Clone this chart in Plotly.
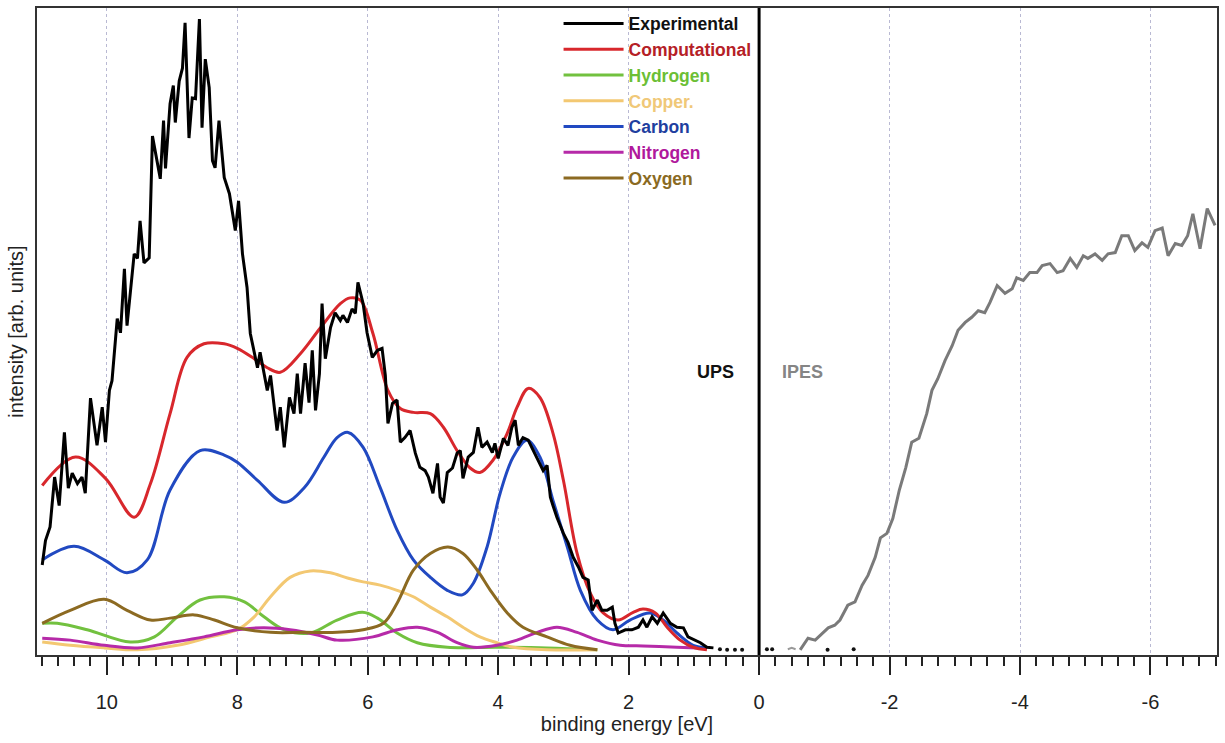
import plotly.graph_objects as go

# ---------------- UPS: experimental spectrum (binding energy in eV, intensity in arb. units)
exp_energy = [10.99, 10.94, 10.87, 10.80, 10.73, 10.65, 10.59, 10.53, 10.45, 10.38,
              10.33, 10.25, 10.15, 10.07, 10.02, 9.96, 9.92, 9.87, 9.84, 9.79,
              9.73, 9.69, 9.58, 9.53, 9.49, 9.43, 9.35, 9.30, 9.18, 9.13,
              9.10, 9.03, 8.98, 8.95, 8.89, 8.84, 8.80, 8.74, 8.69, 8.64,
              8.58, 8.54, 8.49, 8.43, 8.38, 8.34, 8.28, 8.20, 8.12, 8.03,
              7.98, 7.92, 7.85, 7.80, 7.69, 7.65, 7.54, 7.49, 7.39, 7.34,
              7.28, 7.20, 7.13, 7.08, 7.03, 6.96, 6.90, 6.85, 6.80, 6.74,
              6.70, 6.65, 6.57, 6.50, 6.42, 6.38, 6.31, 6.24, 6.19, 6.15,
              6.07, 6.01, 5.93, 5.85, 5.78, 5.73, 5.69, 5.62, 5.55, 5.50,
              5.43, 5.35, 5.27, 5.20, 5.12, 5.07, 5.00, 4.93, 4.89, 4.84,
              4.78, 4.70, 4.63, 4.58, 4.54, 4.46, 4.38, 4.31, 4.25, 4.17,
              4.09, 4.05, 4.00, 3.92, 3.85, 3.79, 3.74, 3.69, 3.62, 3.54,
              3.46, 3.39, 3.31, 3.25, 3.20, 3.16, 3.10, 3.00, 2.93, 2.85,
              2.77, 2.70, 2.62, 2.56, 2.48, 2.41, 2.33, 2.25, 2.21, 2.16,
              2.05, 1.95, 1.85, 1.78, 1.72, 1.64, 1.56, 1.47, 1.36, 1.26,
              1.16, 1.09, 0.98, 0.90, 0.80, 0.70]
exp_intensity = [13.9, 17.7, 19.8, 27.5, 23.1, 34.4, 25.8, 28.1, 26.5, 27.5,
                 25.0, 39.7, 32.4, 38.3, 32.9, 40.9, 42.4, 48.6, 52.0, 49.8,
                 59.7, 50.9, 62.0, 61.3, 67.1, 60.6, 61.4, 80.2, 73.6, 82.6,
                 75.2, 85.2, 88.0, 82.3, 88.7, 90.7, 97.7, 79.9, 86.1, 86.0,
                 98.3, 81.5, 92.1, 87.7, 76.4, 75.3, 82.6, 73.8, 71.3, 65.6,
                 70.2, 62.0, 56.8, 49.7, 44.4, 46.8, 40.9, 43.2, 34.7, 38.3,
                 32.1, 39.8, 37.3, 43.5, 37.3, 45.1, 39.0, 47.1, 37.8, 43.5,
                 54.3, 45.8, 50.6, 52.9, 51.7, 52.5, 51.4, 53.5, 52.8, 57.6,
                 54.3, 49.8, 46.0, 47.1, 47.4, 43.2, 35.8, 38.9, 39.4, 32.9,
                 33.6, 34.7, 31.2, 29.0, 28.5, 27.5, 25.0, 29.6, 24.4, 23.5,
                 28.2, 28.9, 31.2, 31.6, 27.3, 30.6, 31.3, 35.2, 32.1, 32.9,
                 31.3, 32.7, 30.4, 33.5, 32.4, 35.2, 36.3, 32.4, 33.6, 33.2,
                 31.6, 30.1, 28.5, 29.3, 24.4, 23.1, 21.3, 18.8, 17.4, 15.1,
                 13.6, 12.0, 11.6, 6.9, 8.5, 6.9, 6.9, 7.4, 4.9, 3.4,
                 3.9, 3.9, 4.3, 5.4, 4.3, 5.9, 4.9, 6.5, 4.9, 4.3,
                 4.2, 2.8, 2.3, 1.9, 1.2, 1.1]

# sparse readings around the Fermi level
near_ef_energy = [0.60, 0.49, 0.37, 0.26, -0.12, -0.20, -1.05, -1.45]
near_ef_intensity = [0.9, 0.8, 0.8, 0.8, 0.9, 0.9, 0.8, 0.9]

# ---------------- UPS: computed total DOS and element-projected contributions
comp_energy = [10.99, 10.48, 10.02, 9.58, 9.33, 9.03, 8.77, 8.51, 8.20, 8.00,
               7.74, 7.54, 7.34, 7.03, 6.73, 6.42, 6.27, 6.11, 5.92, 5.69,
               5.50, 5.30, 5.04, 4.84, 4.63, 4.43, 4.28, 4.08, 3.86, 3.71,
               3.54, 3.36, 3.16, 3.00, 2.79, 2.59, 2.39, 2.16, 1.93, 1.78,
               1.59, 1.41, 1.21, 1.01, 0.80]
comp_intensity = [26.2, 30.6, 27.3, 21.3, 26.5, 37.3, 46.0, 48.1, 48.1, 47.4,
                  45.8, 44.4, 43.7, 46.6, 50.5, 54.3, 55.2, 54.8, 49.7, 40.9,
                  38.1, 37.5, 37.3, 35.2, 31.6, 28.9, 28.2, 30.1, 34.3, 38.3,
                  41.2, 39.8, 34.3, 27.0, 15.7, 9.6, 6.5, 5.4, 6.6, 7.1,
                  6.5, 4.3, 2.3, 1.2, 0.8]

carbon_energy = [10.99, 10.50, 10.04, 9.69, 9.38, 9.03, 8.57, 8.20, 8.00, 7.69,
                 7.28, 6.97, 6.67, 6.47, 6.30, 6.07, 5.81, 5.55, 5.30, 5.04,
                 4.78, 4.55, 4.38, 4.17, 3.97, 3.77, 3.56, 3.36, 3.16, 2.94,
                 2.74, 2.48, 2.24, 1.98, 1.67, 1.47, 1.26, 1.01, 0.80]
carbon_intensity = [14.7, 16.8, 14.7, 12.7, 14.7, 25.5, 31.6, 30.9, 29.8, 27.0,
                    23.6, 25.9, 30.6, 33.6, 34.4, 32.1, 25.9, 19.3, 14.7, 12.0,
                    10.0, 9.3, 11.1, 16.7, 25.0, 30.6, 33.2, 30.6, 23.9, 16.7,
                    10.0, 5.4, 3.9, 5.4, 6.5, 5.4, 3.4, 1.5, 1.1]

hydrogen_energy = [10.99, 10.76, 10.30, 9.64, 9.27, 8.92, 8.57, 8.20, 7.89, 7.59,
                   7.28, 6.88, 6.47, 6.08, 5.85, 5.55, 5.24, 4.78, 4.02, 3.25,
                   2.48]
hydrogen_intensity = [4.9, 4.9, 3.9, 2.0, 2.8, 5.9, 8.5, 9.0, 8.2, 5.9,
                      3.9, 3.4, 5.4, 6.6, 5.7, 3.4, 1.9, 1.2, 1.2, 1.1,
                      0.8]

copper_energy = [10.99, 10.56, 10.04, 9.53, 8.92, 8.41, 8.00, 7.74, 7.49, 7.19,
                 6.88, 6.57, 6.31, 6.07, 5.81, 5.55, 5.30, 5.04, 4.78, 4.54,
                 4.28, 4.02, 3.77, 3.25, 2.48]
copper_intensity = [2.0, 1.5, 1.1, 0.8, 1.5, 2.8, 3.9, 5.9, 9.0, 12.0,
                    13.0, 12.7, 11.9, 11.3, 10.8, 10.0, 9.0, 7.4, 5.9, 4.3,
                    2.8, 1.9, 1.2, 0.8, 0.8]

nitrogen_energy = [10.99, 10.56, 10.04, 9.53, 9.03, 8.51, 8.00, 7.59, 7.19, 6.77,
                   6.47, 5.92, 5.55, 5.24, 4.93, 4.63, 4.38, 4.02, 3.71, 3.40,
                   3.10, 2.79, 2.48, 2.13, 1.78, 1.26, 0.95]
nitrogen_intensity = [2.6, 2.3, 1.5, 1.1, 1.9, 2.8, 3.9, 4.2, 3.9, 3.1,
                      2.3, 2.8, 3.9, 4.3, 3.5, 1.9, 1.2, 1.5, 2.3, 3.5,
                      4.3, 3.5, 2.3, 1.5, 1.4, 1.2, 1.1]

oxygen_energy = [10.99, 10.56, 10.04, 9.69, 9.33, 9.03, 8.66, 8.35, 8.00, 7.49,
                 6.97, 6.47, 6.07, 5.76, 5.55, 5.30, 5.04, 4.77, 4.54, 4.32,
                 4.12, 3.86, 3.62, 3.25, 2.90, 2.48]
oxygen_intensity = [4.9, 6.9, 8.6, 6.9, 5.4, 5.7, 6.2, 5.4, 4.2, 3.5,
                    3.5, 3.5, 3.9, 4.9, 8.0, 13.1, 15.7, 16.7, 15.7, 13.1,
                    10.0, 6.5, 4.3, 2.8, 1.5, 0.8]

# ---------------- IPES: unoccupied states (negative binding energy)
ipes_energy = [-0.63, -0.75, -0.86, -0.97, -1.06, -1.16, -1.24, -1.36, -1.47, -1.58,
               -1.67, -1.78, -1.86, -1.96, -2.05, -2.15, -2.25, -2.34, -2.45, -2.57,
               -2.65, -2.74, -2.85, -2.96, -3.05, -3.16, -3.26, -3.36, -3.46, -3.54,
               -3.65, -3.77, -3.88, -3.95, -4.05, -4.15, -4.26, -4.34, -4.46, -4.57,
               -4.66, -4.77, -4.87, -4.97, -5.04, -5.15, -5.26, -5.35, -5.46, -5.56,
               -5.66, -5.76, -5.87, -5.96, -6.07, -6.18, -6.27, -6.38, -6.48, -6.57,
               -6.65, -6.76, -6.87, -6.99]
ipes_intensity = [0.8, 2.6, 2.3, 3.4, 4.2, 4.6, 5.4, 7.7, 8.2, 10.8,
                  12.3, 15.1, 18.1, 18.8, 21.1, 25.5, 29.0, 32.9, 33.5, 37.3,
                  40.9, 42.7, 45.5, 47.8, 50.2, 51.4, 52.2, 53.2, 52.9, 54.5,
                  57.1, 55.9, 56.6, 58.3, 57.9, 59.1, 59.1, 60.2, 60.5, 59.1,
                  59.4, 61.3, 59.9, 61.7, 61.3, 62.0, 61.0, 62.0, 62.2, 64.8,
                  64.8, 62.5, 63.7, 63.0, 65.6, 66.0, 61.7, 63.6, 63.3, 64.8,
                  68.2, 62.8, 69.0, 66.4]

# faint onset readings just above the Fermi level
ipes_onset_energy = [-0.44, -0.50, -0.56]
ipes_onset_intensity = [0.9, 1.1, 0.9]

# axis ticks
tick_values = [10, 8, 6, 4, 2, 0, -2, -4, -6]
tick_labels = ["10", "8", "6", "4", "2", "0", "-2", "-4", "-6"]

FONT = "Liberation Sans, Arial, sans-serif"


def legend_name(text, color):
    return f"<span style='color:{color}'><b>{text}</b></span>"


fig = go.Figure()

# projected contributions (drawn first so the totals sit on top)
components = [
    ("Hydrogen", hydrogen_energy, hydrogen_intensity, "#72c13f", "#6cbf35", 3),
    ("Copper.", copper_energy, copper_intensity, "#f3c872", "#f0c878", 4),
    ("Carbon", carbon_energy, carbon_intensity, "#2149c1", "#1f3f9f", 5),
    ("Nitrogen", nitrogen_energy, nitrogen_intensity, "#b62aa8", "#b0189c", 6),
    ("Oxygen", oxygen_energy, oxygen_intensity, "#8c6a22", "#8a6a22", 7),
]
for name, xs, ys, line_color, text_color, rank in components:
    fig.add_trace(go.Scatter(
        x=xs, y=ys, mode="lines", name=legend_name(name, text_color),
        line=dict(color=line_color, width=3, shape="spline", smoothing=1.0),
        legendrank=rank,
    ))

fig.add_trace(go.Scatter(
    x=comp_energy, y=comp_intensity, mode="lines",
    name=legend_name("Computational", "#b52026"),
    line=dict(color="#d8272c", width=3, shape="spline", smoothing=1.0),
    legendrank=2,
))

fig.add_trace(go.Scatter(
    x=exp_energy, y=exp_intensity, mode="lines",
    name=legend_name("Experimental", "#111111"),
    line=dict(color="#000000", width=3),
    legendrank=1,
))

fig.add_trace(go.Scatter(
    x=near_ef_energy, y=near_ef_intensity, mode="markers",
    marker=dict(color="#111111", size=4), showlegend=False, hoverinfo="skip",
))

fig.add_trace(go.Scatter(
    x=ipes_onset_energy, y=ipes_onset_intensity, mode="lines",
    line=dict(color="#9a9a9a", width=2), showlegend=False, hoverinfo="skip",
))

fig.add_trace(go.Scatter(
    x=ipes_energy, y=ipes_intensity, mode="lines",
    line=dict(color="#7a7a7a", width=3), showlegend=False,
))

# UPS / IPES divider at the Fermi level
fig.add_shape(type="line", xref="x", yref="paper", x0=0, x1=0, y0=0, y1=1,
              line=dict(color="black", width=3))

fig.add_annotation(x=0.67, y=43.7, xref="x", yref="y", text="<b>UPS</b>",
                   showarrow=False, font=dict(family=FONT, size=18, color="#111111"))
fig.add_annotation(x=-0.66, y=43.7, xref="x", yref="y", text="<b>IPES</b>",
                   showarrow=False, font=dict(family=FONT, size=18, color="#858585"))

fig.update_layout(
    width=1225, height=743,
    margin=dict(l=37, r=8, t=7, b=88),
    paper_bgcolor="white", plot_bgcolor="white",
    font=dict(family=FONT, size=20, color="#222222"),
    showlegend=True,
    legend=dict(
        x=0.442, y=1.002, xanchor="left", yanchor="top",
        bgcolor="rgba(0,0,0,0)", borderwidth=0,
        font=dict(family=FONT, size=17.5),
        tracegroupgap=0, itemwidth=60,
    ),
)

fig.update_xaxes(
    range=[11.07, -7.02],
    title=dict(text="binding energy [eV]", font=dict(size=20), standoff=4),
    tickvals=tick_values, ticktext=tick_labels,
    ticks="outside", ticklen=18, tickwidth=2, tickcolor="#222222",
    ticklabelstandoff=10,
    tickfont=dict(size=20, color="#222222"),
    showline=True, linecolor="#333333", linewidth=2, mirror=True,
    showgrid=True, gridcolor="#b9b9d3", griddash="dot", gridwidth=1,
    zeroline=False,
    minor=dict(dtick=0.25, tick0=0, ticks="outside", ticklen=9, tickwidth=1.5,
               tickcolor="#222222", showgrid=False),
)
fig.update_yaxes(
    range=[0, 100],
    title=dict(text="intensity [arb. units]", font=dict(size=20), standoff=6),
    showticklabels=False, ticks="",
    showline=True, linecolor="#333333", linewidth=2, mirror=True,
    showgrid=False, zeroline=False,
)

fig.write_html("out.html")
